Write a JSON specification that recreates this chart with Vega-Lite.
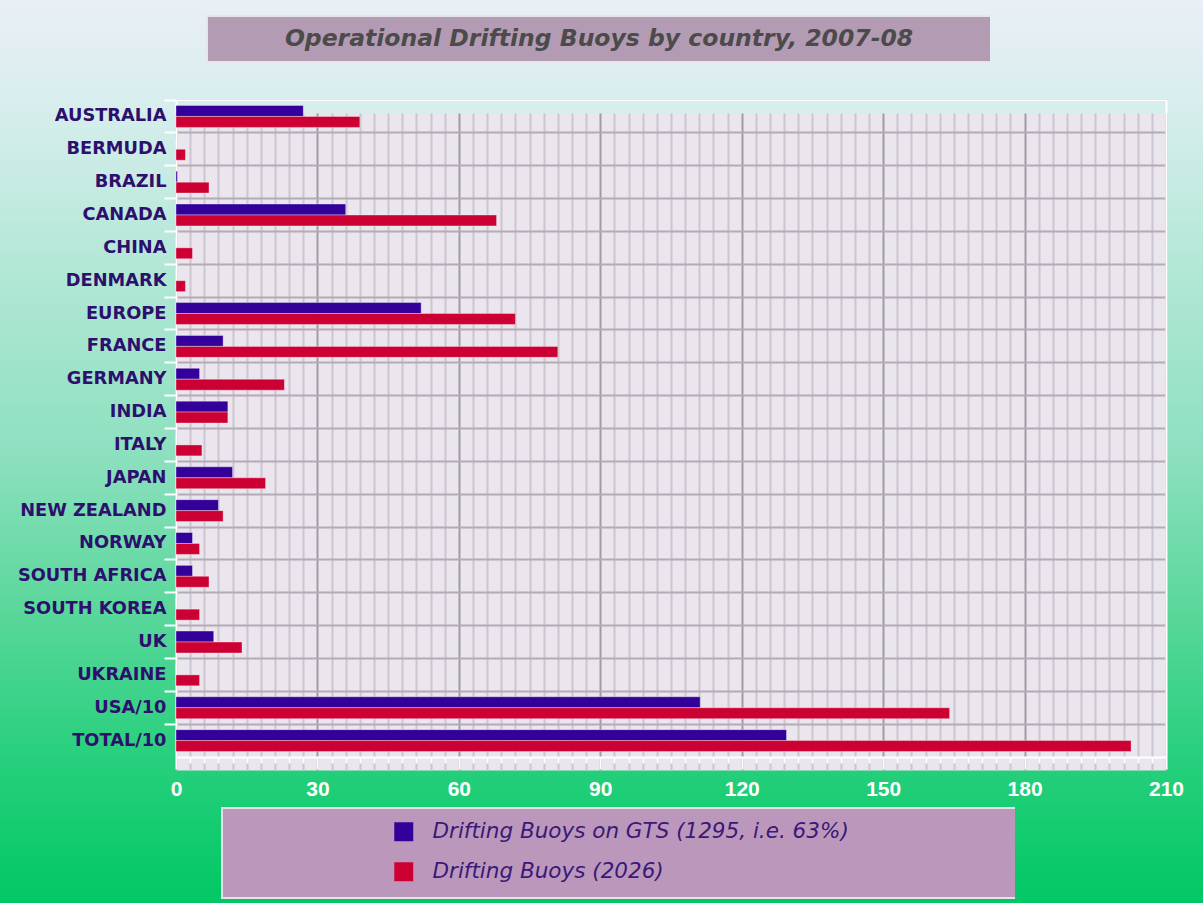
{
  "$schema": "https://vega.github.io/schema/vega-lite/v6.json",
  "padding": {"left": -1, "top": 0, "right": 0, "bottom": 0},
  "autosize": {"type": "pad"},
  "background": "#ffffff",
  "config": {"font": "Liberation Sans"},
  "data": {"values": [{}]},
  "bounds": "full",
  "spacing": 0,
  "vconcat": [
    {
      "width": 1203, "height": 15,
      "view": {"stroke": null, "fill": {"gradient": "linear", "x1": 0, "y1": 0, "x2": 0, "y2": 1, "stops": [{"offset": 0, "color": "#eaeff5"}, {"offset": 1, "color": "#e7eff4"}]}},
      "mark": {"type": "text", "text": ""}
    },
    {
      "bounds": "flush",
      "spacing": 0,
      "hconcat": [
        {
          "width": 207, "height": 46,
          "view": {"strokeWidth": 2,
            "stroke": {"gradient": "linear", "x1": 0, "y1": 0, "x2": 0, "y2": 1, "stops": [{"offset": 0, "color": "#e7eff4"}, {"offset": 1, "color": "#dfeef1"}]},
            "fill": {"gradient": "linear", "x1": 0, "y1": 0, "x2": 0, "y2": 1, "stops": [{"offset": 0, "color": "#e7eff4"}, {"offset": 1, "color": "#dfeef1"}]}},
          "mark": {"type": "text", "text": ""}
        },
        {
          "width": 784, "height": 46,
          "view": {"fill": "#b49bb4", "stroke": "#e4e6ec", "strokeWidth": 2},
          "data": {"values": [{"t": "Operational Drifting Buoys by country, 2007-08"}]},
          "mark": {"type": "text", "font": "DejaVu Sans", "fontSize": 23.5, "fontStyle": "italic", "fontWeight": "bold", "color": "#4b4b4b"},
          "encoding": {"text": {"field": "t", "type": "nominal"}}
        },
        {
          "width": 212, "height": 46,
          "view": {"strokeWidth": 2,
            "stroke": {"gradient": "linear", "x1": 0, "y1": 0, "x2": 0, "y2": 1, "stops": [{"offset": 0, "color": "#e7eff4"}, {"offset": 1, "color": "#dfeef1"}]},
            "fill": {"gradient": "linear", "x1": 0, "y1": 0, "x2": 0, "y2": 1, "stops": [{"offset": 0, "color": "#e7eff4"}, {"offset": 1, "color": "#dfeef1"}]}},
          "mark": {"type": "text", "text": ""}
        }
      ]
    },
    {
      "width": 1203,
      "height": 744,
      "view": {"stroke": null, "fill": {"gradient": "linear", "x1": 0, "y1": 0, "x2": 0, "y2": 1, "stops": [{"offset": 0, "color": "#dfeef1"}, {"offset": 0.0497, "color": "#d8eeee"}, {"offset": 0.3185, "color": "#ace6d2"}, {"offset": 0.5202, "color": "#8ee0c0"}, {"offset": 0.7218, "color": "#5ed89e"}, {"offset": 0.9234, "color": "#2ad07e"}, {"offset": 1, "color": "#1acd74"}]}},
      "data": {"values": [
        {"country": "AUSTRALIA", "series": "Drifting Buoys on GTS (1295, i.e. 63%)", "value": 27},
        {"country": "AUSTRALIA", "series": "Drifting Buoys (2026)", "value": 39},
        {"country": "BERMUDA", "series": "Drifting Buoys on GTS (1295, i.e. 63%)", "value": 0},
        {"country": "BERMUDA", "series": "Drifting Buoys (2026)", "value": 2},
        {"country": "BRAZIL", "series": "Drifting Buoys on GTS (1295, i.e. 63%)", "value": 0.3},
        {"country": "BRAZIL", "series": "Drifting Buoys (2026)", "value": 7},
        {"country": "CANADA", "series": "Drifting Buoys on GTS (1295, i.e. 63%)", "value": 36},
        {"country": "CANADA", "series": "Drifting Buoys (2026)", "value": 68},
        {"country": "CHINA", "series": "Drifting Buoys on GTS (1295, i.e. 63%)", "value": 0},
        {"country": "CHINA", "series": "Drifting Buoys (2026)", "value": 3.5},
        {"country": "DENMARK", "series": "Drifting Buoys on GTS (1295, i.e. 63%)", "value": 0},
        {"country": "DENMARK", "series": "Drifting Buoys (2026)", "value": 2},
        {"country": "EUROPE", "series": "Drifting Buoys on GTS (1295, i.e. 63%)", "value": 52},
        {"country": "EUROPE", "series": "Drifting Buoys (2026)", "value": 72},
        {"country": "FRANCE", "series": "Drifting Buoys on GTS (1295, i.e. 63%)", "value": 10},
        {"country": "FRANCE", "series": "Drifting Buoys (2026)", "value": 81},
        {"country": "GERMANY", "series": "Drifting Buoys on GTS (1295, i.e. 63%)", "value": 5},
        {"country": "GERMANY", "series": "Drifting Buoys (2026)", "value": 23},
        {"country": "INDIA", "series": "Drifting Buoys on GTS (1295, i.e. 63%)", "value": 11},
        {"country": "INDIA", "series": "Drifting Buoys (2026)", "value": 11},
        {"country": "ITALY", "series": "Drifting Buoys on GTS (1295, i.e. 63%)", "value": 0},
        {"country": "ITALY", "series": "Drifting Buoys (2026)", "value": 5.5},
        {"country": "JAPAN", "series": "Drifting Buoys on GTS (1295, i.e. 63%)", "value": 12},
        {"country": "JAPAN", "series": "Drifting Buoys (2026)", "value": 19},
        {"country": "NEW ZEALAND", "series": "Drifting Buoys on GTS (1295, i.e. 63%)", "value": 9},
        {"country": "NEW ZEALAND", "series": "Drifting Buoys (2026)", "value": 10},
        {"country": "NORWAY", "series": "Drifting Buoys on GTS (1295, i.e. 63%)", "value": 3.5},
        {"country": "NORWAY", "series": "Drifting Buoys (2026)", "value": 5},
        {"country": "SOUTH AFRICA", "series": "Drifting Buoys on GTS (1295, i.e. 63%)", "value": 3.5},
        {"country": "SOUTH AFRICA", "series": "Drifting Buoys (2026)", "value": 7},
        {"country": "SOUTH KOREA", "series": "Drifting Buoys on GTS (1295, i.e. 63%)", "value": 0},
        {"country": "SOUTH KOREA", "series": "Drifting Buoys (2026)", "value": 5},
        {"country": "UK", "series": "Drifting Buoys on GTS (1295, i.e. 63%)", "value": 8},
        {"country": "UK", "series": "Drifting Buoys (2026)", "value": 14},
        {"country": "UKRAINE", "series": "Drifting Buoys on GTS (1295, i.e. 63%)", "value": 0},
        {"country": "UKRAINE", "series": "Drifting Buoys (2026)", "value": 5},
        {"country": "USA/10", "series": "Drifting Buoys on GTS (1295, i.e. 63%)", "value": 111.2},
        {"country": "USA/10", "series": "Drifting Buoys (2026)", "value": 164.1},
        {"country": "TOTAL/10", "series": "Drifting Buoys on GTS (1295, i.e. 63%)", "value": 129.5},
        {"country": "TOTAL/10", "series": "Drifting Buoys (2026)", "value": 202.6}
      ]},
      "encoding": {
        "y": {"field": "country", "type": "nominal", "sort": null, "scale": {"range": [37, 694], "paddingInner": 0, "paddingOuter": 0}},
        "x": {"field": "value", "type": "quantitative", "scale": {"domain": [0, 210], "nice": false, "range": [176, 1166]}}
      },
      "resolve": {"axis": {"x": "independent", "y": "independent"}},
      "layer": [
        {
          "mark": {"type": "bar", "stroke": "#ffffff", "strokeOpacity": 0.35, "strokeWidth": 1},
          "encoding": {
            "yOffset": {
              "field": "series", "type": "nominal",
              "sort": ["Drifting Buoys on GTS (1295, i.e. 63%)", "Drifting Buoys (2026)"],
              "scale": {"paddingInner": 0, "paddingOuter": 0.5}
            },
            "color": {
              "field": "series", "type": "nominal",
              "scale": {"domain": ["Drifting Buoys on GTS (1295, i.e. 63%)", "Drifting Buoys (2026)"], "range": ["#330099", "#cc0033"]},
              "legend": {
                "title": null, "orient": "none", "legendX": 393, "legendY": 821,
                "symbolType": "square", "symbolSize": 360, "symbolStrokeWidth": 0,
                "labelFont": "DejaVu Sans", "labelFontSize": 21.5, "labelFontStyle": "italic",
                "labelColor": "#3a1877", "labelOffset": 18, "rowPadding": 17, "labelLimit": 600
              }
            },
            "x": {
              "field": "value", "type": "quantitative",
              "axis": {
                "orient": "bottom", "offset": -50, "title": null, "values": [105],
                "domain": false, "ticks": false, "labels": false,
                "grid": true, "gridColor": "#ebe5ee", "gridWidth": 990, "gridOpacity": 1
              }
            },
            "y": {
              "field": "country", "type": "nominal", "sort": null,
              "axis": {
                "orient": "left", "offset": -176, "title": null, "bandPosition": 0,
                "domain": true, "domainColor": "#ffffff", "domainWidth": 2,
                "ticks": true, "tickColor": "#ffffff", "tickWidth": 2, "tickSize": 12,
                "grid": true, "gridColor": "#b3abb5", "gridWidth": 2,
                "labelFont": "DejaVu Sans", "labelFontSize": 17.8, "labelFontWeight": "bold",
                "labelColor": "#2d0f6e", "labelPadding": -2, "labelLimit": 300
              }
            }
          }
        },
        {
          "mark": {"type": "text", "text": ""},
          "encoding": {
            "x": {
              "field": "value", "type": "quantitative",
              "axis": {
                "orient": "bottom", "offset": -50, "title": null,
                "values": [0,3,6,9,12,15,18,21,24,27,30,33,36,39,42,45,48,51,54,57,60,63,66,69,72,75,78,81,84,87,90,93,96,99,102,105,108,111,114,117,120,123,126,129,132,135,138,141,144,147,150,153,156,159,162,165,168,171,174,177,180,183,186,189,192,195,198,201,204,207,210],
                "domain": true, "domainColor": "#ffffff", "domainWidth": 2,
                "ticks": true, "tickColor": "#ffffff", "tickWidth": 2,
                "tickSize": {"condition": {"test": "datum.value % 30 === 0", "value": 12}, "value": 6},
                "grid": true,
                "gridColor": {"condition": {"test": "datum.value % 30 === 0", "value": "#a29ba6"}, "value": "#cdc5cf"},
                "gridWidth": 2,
                "labelExpr": "datum.value % 30 === 0 ? datum.label : ''",
                "labelFont": "Liberation Sans", "labelFontSize": 21, "labelFontWeight": "bold",
                "labelColor": "#ffffff", "labelPadding": 9, "labelFlush": false, "labelOverlap": false
              }
            },
            "y": {"field": "country", "type": "nominal", "sort": null, "axis": null}
          }
        },
        {
          "mark": {"type": "text", "text": ""},
          "encoding": {
            "x": {
              "field": "value", "type": "quantitative",
              "axis": {"orient": "top", "offset": -37, "title": null, "domain": true, "domainColor": "#ffffff", "domainWidth": 2, "ticks": false, "labels": false, "grid": false}
            },
            "y": {
              "field": "country", "type": "nominal", "sort": null,
              "axis": {"orient": "right", "offset": -37, "title": null, "domain": true, "domainColor": "#ffffff", "domainWidth": 2, "ticks": false, "labels": false, "grid": false}
            }
          }
        }
      ]
    },
    {
      "bounds": "flush",
      "spacing": 0,
      "hconcat": [
        {
          "width": 222, "height": 90,
          "view": {"strokeWidth": 2,
            "stroke": {"gradient": "linear", "x1": 0, "y1": 0, "x2": 0, "y2": 1, "stops": [{"offset": 0, "color": "#1acd74"}, {"offset": 1, "color": "#02c865"}]},
            "fill": {"gradient": "linear", "x1": 0, "y1": 0, "x2": 0, "y2": 1, "stops": [{"offset": 0, "color": "#1acd74"}, {"offset": 1, "color": "#02c865"}]}},
          "mark": {"type": "text", "text": ""}
        },
        {
          "width": 794, "height": 90,
          "view": {"fill": "#bc97bc", "stroke": "#e6e3ea", "strokeWidth": 2},
          "mark": {"type": "text", "text": ""}
        },
        {
          "width": 187, "height": 90,
          "view": {"strokeWidth": 2,
            "stroke": {"gradient": "linear", "x1": 0, "y1": 0, "x2": 0, "y2": 1, "stops": [{"offset": 0, "color": "#1acd74"}, {"offset": 1, "color": "#02c865"}]},
            "fill": {"gradient": "linear", "x1": 0, "y1": 0, "x2": 0, "y2": 1, "stops": [{"offset": 0, "color": "#1acd74"}, {"offset": 1, "color": "#02c865"}]}},
          "mark": {"type": "text", "text": ""}
        }
      ]
    },
    {
      "width": 1203, "height": 12,
      "view": {"stroke": null, "fill": "#01c864"},
      "mark": {"type": "text", "text": ""}
    }
  ]
}
